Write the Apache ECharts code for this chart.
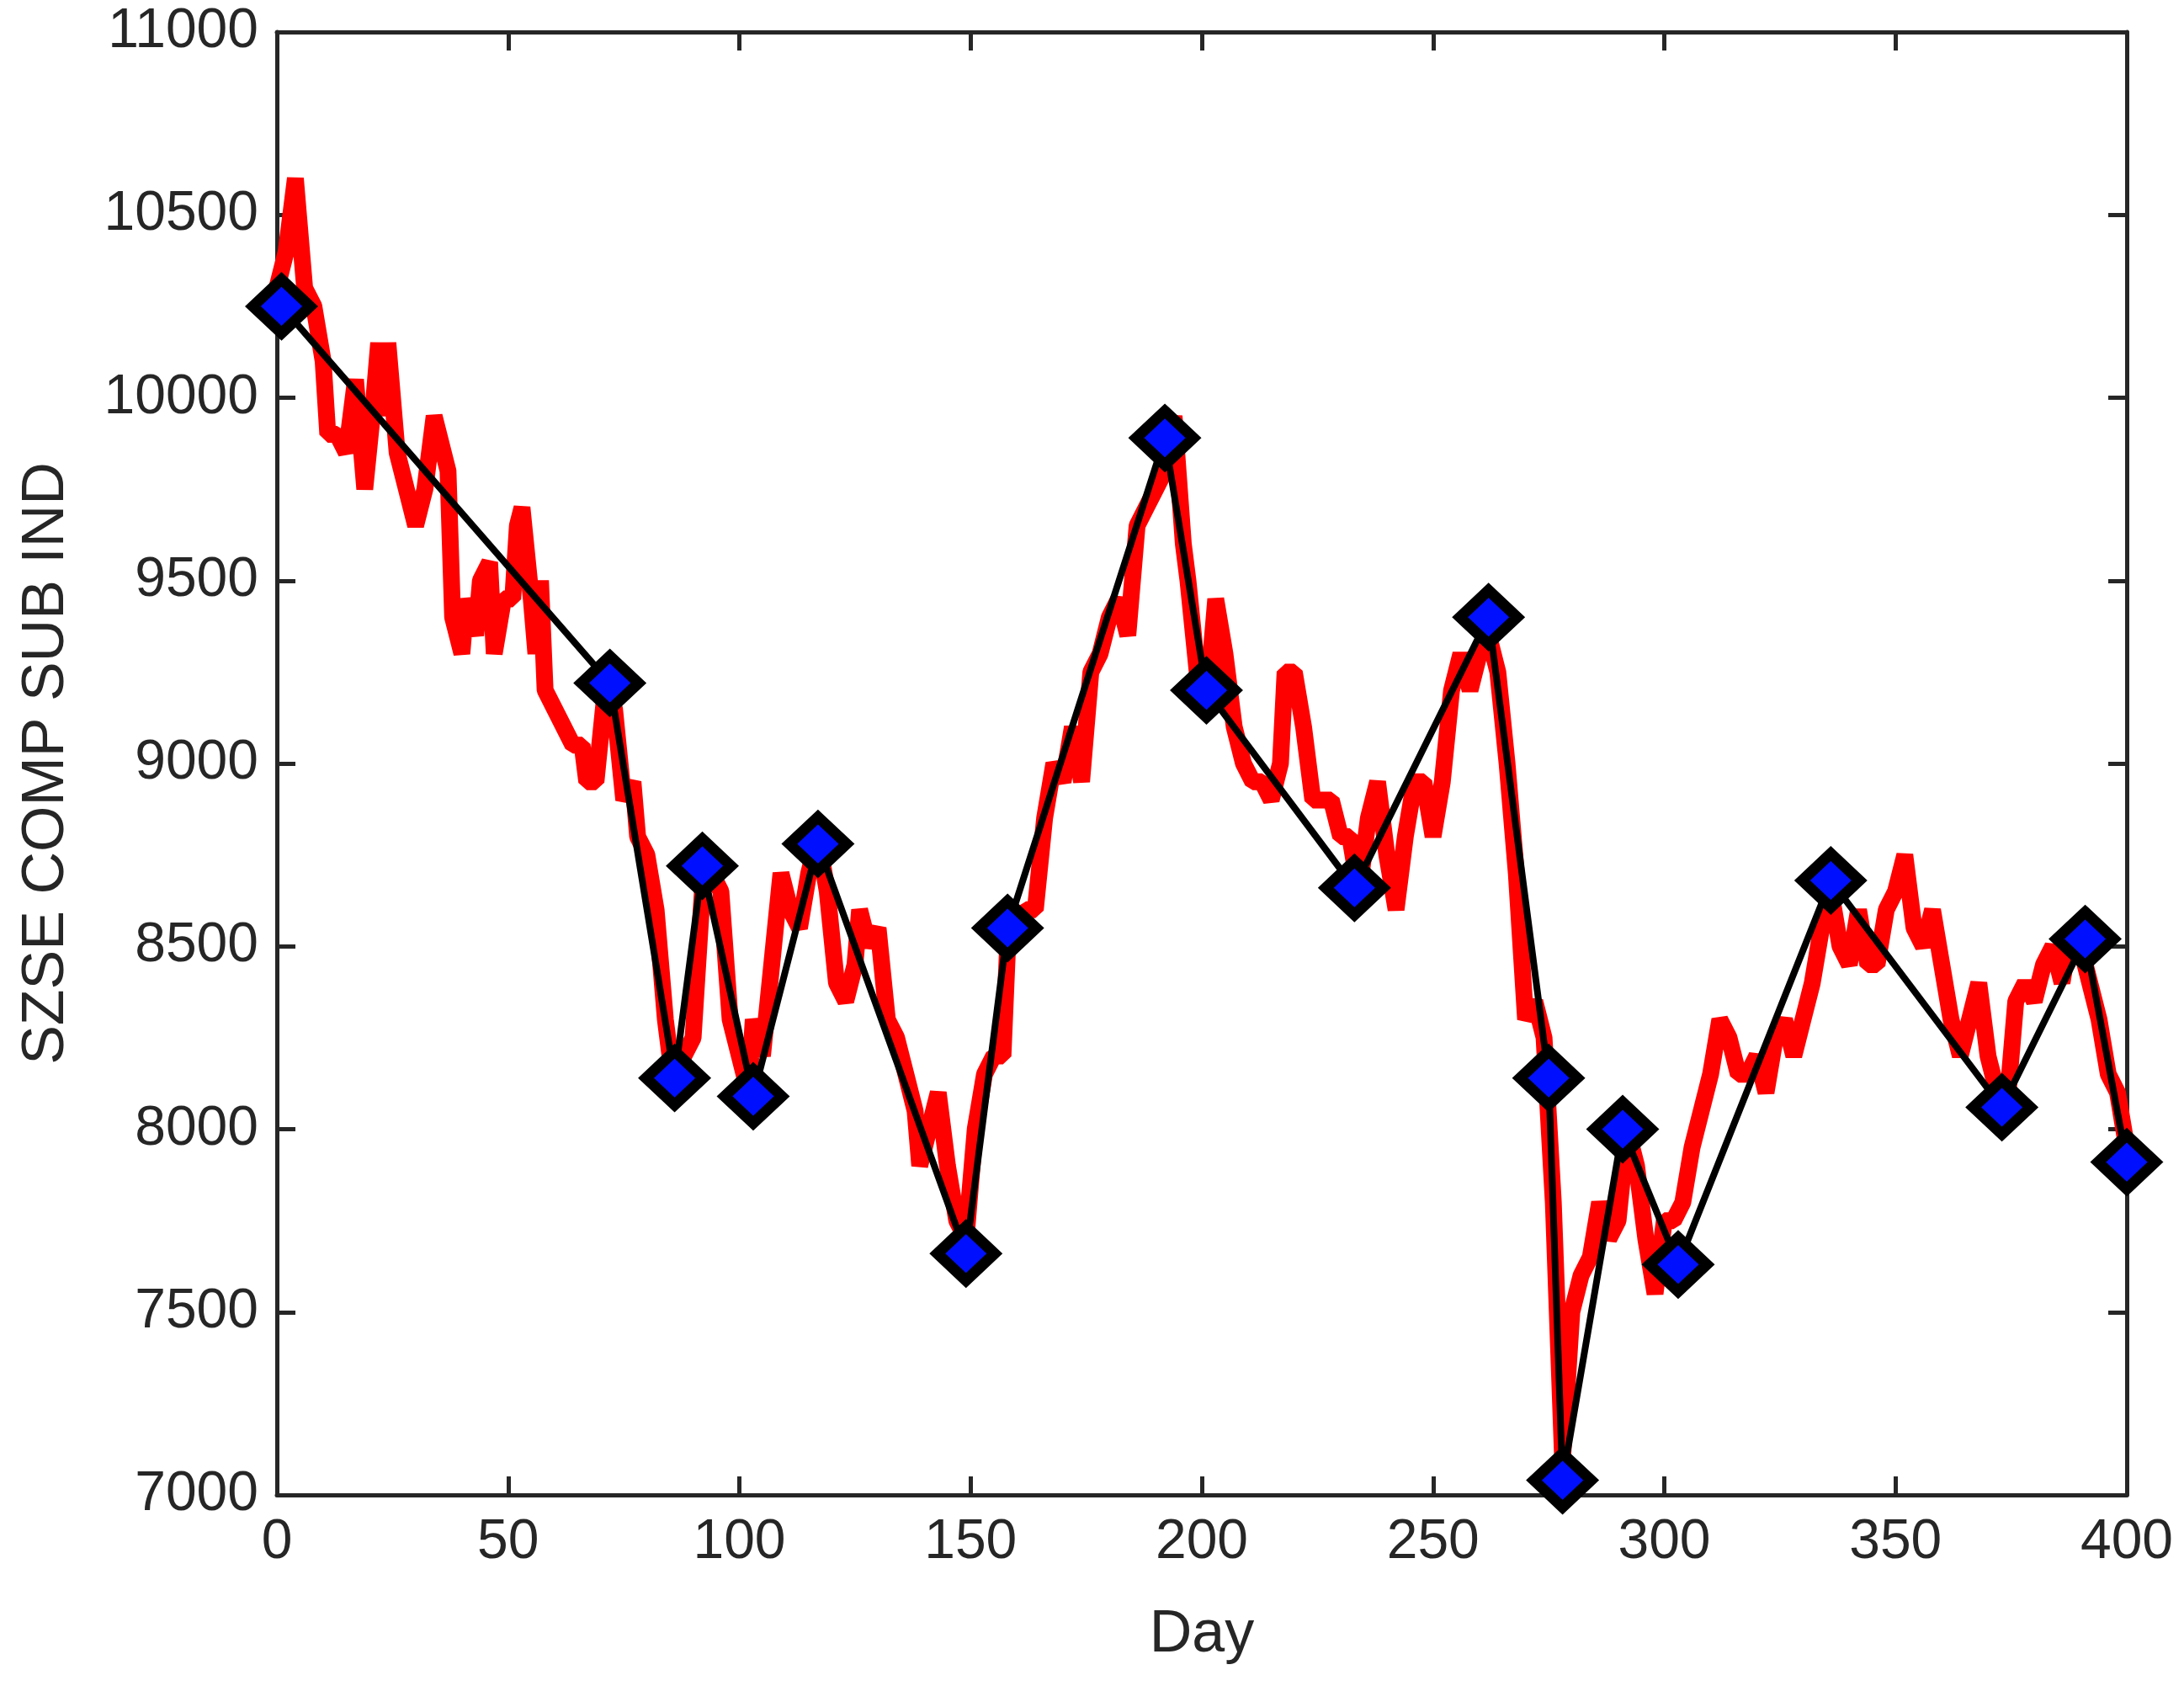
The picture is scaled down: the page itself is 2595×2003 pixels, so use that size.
<!DOCTYPE html>
<html>
<head>
<meta charset="utf-8">
<script src="https://cdn.jsdelivr.net/npm/echarts@6/dist/echarts.min.js"></script>
<style>html,body{margin:0;padding:0;background:#fff}#chart{width:2595px;height:2003px}</style>
</head>
<body>
<div id="chart"></div>
<script>
// red price series
var days = [0,2,4,6,8,10,11,13,15,17,19,21,22,23,24,26,28,30,32,34,36,37,38,40,41,43,44,46,47,49,51,52,53,55,56,57,58,60,62,64,66,67,69,71,73,75,77,78,80,82,84,86,88,90,92,94,96,98,100,102,103,105,107,109,111,113,115,117,119,121,123,125,126,128,130,132,134,136,138,139,141,143,145,147,149,151,153,155,157,158,160,162,164,166,168,170,172,174,176,178,180,182,184,186,188,190,192,194,196,197,199,201,203,205,207,209,211,213,215,217,218,220,222,224,226,228,230,232,234,236,238,240,242,244,246,248,250,252,254,256,258,260,262,264,266,268,270,272,274,276,278,280,282,284,286,288,290,292,294,296,298,300,302,304,306,308,310,312,314,316,318,320,322,324,326,328,330,332,334,336,338,340,342,344,346,348,350,352,354,356,358,360,362,364,366,368,370,372,374,376,378,380,382,384,386,388,390,392,394,396,398,400];
var prices = [10300,10400,10600,10300,10250,10100,9900,9900,9850,10050,9750,10000,10150,9950,10150,9850,9750,9650,9750,9950,9850,9800,9400,9300,9450,9350,9500,9550,9300,9450,9450,9650,9700,9450,9300,9500,9200,9150,9100,9050,9050,8950,8950,9200,9150,8900,8950,8800,8750,8600,8300,8100,8200,8250,8650,8700,8650,8300,8200,8100,8300,8200,8450,8700,8600,8550,8700,8800,8650,8400,8350,8450,8600,8500,8550,8300,8250,8150,8050,7900,8000,8100,7900,7750,7700,8000,8150,8200,8200,8500,8550,8600,8600,8850,9000,8950,9100,8950,9250,9300,9400,9450,9350,9650,9700,9750,9800,9950,9600,9500,9250,9150,9450,9300,9100,9000,8950,8950,8900,9000,9250,9250,9100,8900,8900,8900,8800,8800,8650,8850,8950,8750,8600,8800,8950,8950,8800,8950,9200,9300,9200,9300,9350,9250,9000,8700,8300,8350,8250,7800,7100,7500,7600,7650,7800,7700,7750,8000,7900,7700,7550,7750,7750,7800,7950,8050,8150,8300,8250,8150,8150,8200,8100,8250,8300,8200,8300,8400,8550,8650,8500,8450,8600,8450,8450,8600,8650,8750,8550,8500,8600,8450,8300,8200,8300,8400,8200,8100,8050,8350,8400,8350,8450,8500,8400,8550,8500,8400,8300,8150,8100,7950];
// black turning points
var turnDays = [1,72,86,92,103,117,149,158,192,201,233,262,275,278,291,303,336,373,391,400];
var turnValues = [10250,9220,8140,8720,8090,8780,7660,8550,9890,9200,8660,9400,8140,7040,8000,7630,8680,8060,8520,7910];

var chart = echarts.init(document.getElementById('chart'));
var axisColor = '#262626';
var font = 'Helvetica, Arial, "Liberation Sans", sans-serif';
function pairs(xs, ys) {
    return xs.map(function (x, i) { return [x, ys[i]]; });
}
function plain(v) { return String(v); }
var baseX = {
    type: 'value', min: 0, max: 400, interval: 50,
    axisLine: {show: true, onZero: false, lineStyle: {color: axisColor, width: 5}},
    axisTick: {inside: true, length: 22, lineStyle: {color: axisColor, width: 5}},
    splitLine: {show: false}
};
var baseY = {
    type: 'value', min: 7000, max: 11000, interval: 500,
    axisLine: {show: true, onZero: false, lineStyle: {color: axisColor, width: 5}},
    axisTick: {inside: true, length: 22, lineStyle: {color: axisColor, width: 5}},
    splitLine: {show: false}
};
var option = {
    backgroundColor: '#fff',
    animation: false,
    grid: {left: 329, right: 68, top: 38, bottom: 227},
    xAxis: [
        Object.assign({}, baseX, {
            position: 'bottom', name: 'Day', nameLocation: 'middle', nameGap: 132,
            nameTextStyle: {color: axisColor, fontSize: 70, fontFamily: font},
            axisLabel: {color: axisColor, fontSize: 66, fontFamily: font, margin: 24, formatter: plain}
        }),
        Object.assign({}, baseX, {position: 'top', axisLabel: {show: false}})
    ],
    yAxis: [
        Object.assign({}, baseY, {
            position: 'left', name: 'SZSE COMP SUB IND', nameLocation: 'middle', nameGap: 238,
            nameTextStyle: {color: axisColor, fontSize: 70, fontFamily: font},
            axisLabel: {color: axisColor, fontSize: 66, fontFamily: font, margin: 22, formatter: plain}
        }),
        Object.assign({}, baseY, {position: 'right', axisLabel: {show: false}})
    ],
    series: [
        {
            type: 'line', data: pairs(days, prices), showSymbol: false,
            lineStyle: {color: '#ff0000', width: 20}, z: 2
        },
        {
            type: 'line', data: pairs(turnDays, turnValues),
            symbol: 'diamond', symbolSize: [68, 64],
            itemStyle: {color: '#0010ff', borderColor: '#000', borderWidth: 13},
            lineStyle: {color: '#000', width: 8}, z: 3
        }
    ]
};
chart.setOption(option);
</script>
</body>
</html>
